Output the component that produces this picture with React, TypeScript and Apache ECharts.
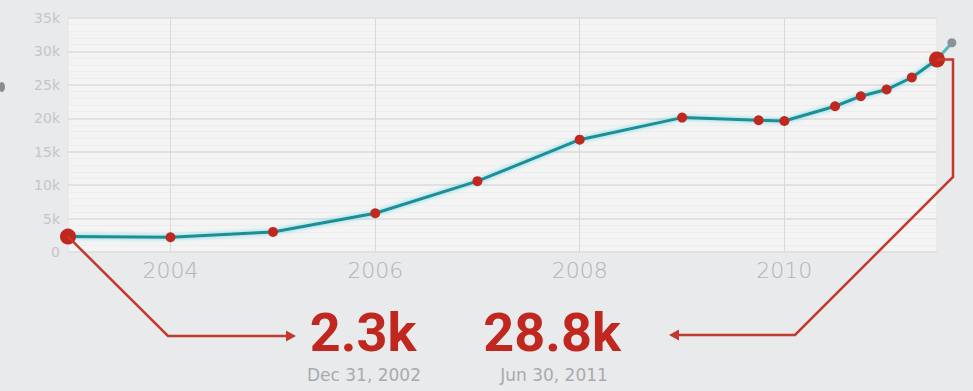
import React, { useEffect, useRef } from 'react';
import * as echarts from 'echarts';

// ---- data ----
const dates = [
  '2002-12-31', '2004-01-01', '2005-01-01', '2006-01-01', '2007-01-01',
  '2008-01-01', '2009-01-01', '2009-10-01', '2010-01-01', '2010-07-01',
  '2010-10-01', '2011-01-01', '2011-04-01', '2011-06-30',
];
const values = [
  2300, 2200, 3000, 5800, 10600,
  16800, 20100, 19700, 19600, 21800,
  23300, 24300, 26100, 28800,
];
const trailDates = ['2011-06-30', '2011-08-22'];
const trailValues = [28800, 31300];
const yearTicks = ['2004', '2006', '2008', '2010'];
const startValueLabel = '2.3k';
const startDateLabel = 'Dec 31, 2002';
const endValueLabel = '28.8k';
const endDateLabel = 'Jun 30, 2011';

const toTime = (s: string) => {
  const [y, m, d] = s.split('-').map(Number);
  return new Date(y, m - 1, d).getTime();
};

const RED = '#c0281f';
const ARROW = '#c23a2e';

export default function App() {
  const ref = useRef<HTMLDivElement>(null);
  useEffect(() => {
    const chart = echarts.init(ref.current!, null, { renderer: 'svg' });
    const mainData = dates.map((d, i) => [toTime(d), values[i]]);
    const trailData = trailDates.map((d, i) => [toTime(d), trailValues[i]]);
    const last = mainData.length - 1;
    chart.setOption({
      animation: false,
      backgroundColor: '#e8eaec',
      grid: {
        left: 68, top: 18, right: 36, bottom: 139,
        show: true, backgroundColor: '#f4f4f4', borderColor: '#e3e3e3', borderWidth: 1,
      },
      xAxis: {
        type: 'time',
        min: toTime(dates[0]),
        max: toTime(dates[last]),
        axisLabel: { show: false },
        axisLine: { show: false },
        axisTick: { show: false },
        splitLine: { show: false },
      },
      yAxis: {
        type: 'value',
        min: 0, max: 35000, interval: 5000,
        axisLine: { show: false },
        axisTick: { show: false },
        axisLabel: {
          formatter: (v: number) => (v === 0 ? '0' : `${v / 1000}k`),
          color: '#c3c6ca', fontSize: 14, fontFamily: 'DejaVu Sans', margin: 8,
        },
        splitLine: { lineStyle: { color: '#e1e1e1', width: 2 } },
        minorTick: { show: false, splitNumber: 5 },
        minorSplitLine: { show: true, lineStyle: { color: '#ededed', width: 1 } },
      },
      series: [
        {
          type: 'line',
          data: trailData,
          clip: false,
          z: 2,
          lineStyle: { width: 0 },
          symbol: 'circle',
          symbolSize: (_v: any, p: any) => (p.dataIndex === 1 ? 9 : 0),
          itemStyle: { color: '#8b9196' },
          silent: true,
        },
        {
          type: 'line',
          data: mainData,
          clip: false,
          z: 3,
          lineStyle: {
            color: '#1b8e96', width: 3,
            shadowColor: 'rgba(90,210,220,0.9)', shadowBlur: 4,
          },
          symbol: 'circle',
          symbolSize: (_v: any, p: any) => (p.dataIndex === 0 || p.dataIndex === last ? 16 : 10),
          itemStyle: { color: RED },
          silent: true,
          markLine: {
            silent: true,
            z: 1,
            symbol: ['none', 'none'],
            lineStyle: { color: '#d9d9d9', width: 1, type: 'solid' },
            label: {
              show: true,
              position: 'start',
              distance: 7,
              formatter: (p: any) => yearTicks[p.dataIndex],
              color: '#b2b5b8',
              fontSize: 22,
              fontFamily: 'DejaVu Sans',
              fontWeight: 300,
            },
            data: yearTicks.map((y) => ({ xAxis: toTime(`${y}-01-01`) })),
          },
        },
      ],
    });

    const [x0, y0] = chart.convertToPixel({ gridIndex: 0 }, mainData[0]) as number[];
    const [x1, y1] = chart.convertToPixel({ gridIndex: 0 }, mainData[last]) as number[];
    const [tx, ty] = chart.convertToPixel({ gridIndex: 0 }, trailData[1]) as number[];
    const rowY = 336;
    const lineStyle = { stroke: ARROW, lineWidth: 2.5, fill: 'none' };
    chart.setOption({
      graphic: [
        { type: 'ellipse', shape: { cx: 2, cy: 87, rx: 3, ry: 5 }, style: { fill: '#8a8d90' } },
        {
          type: 'line', z: 1,
          shape: { x1, y1, x2: tx, y2: ty },
          style: { stroke: '#4fb9c0', lineWidth: 3 },
        },
        {
          type: 'polyline', z: 10,
          shape: { points: [[x0, y0], [x0 + 100, rowY], [x0 + 222, rowY]] },
          style: lineStyle,
        },
        {
          type: 'polygon', z: 10,
          shape: { points: [[x0 + 218, rowY - 5.5], [x0 + 228, rowY], [x0 + 218, rowY + 5.5]] },
          style: { fill: ARROW },
        },
        {
          type: 'polyline', z: 10,
          shape: { points: [[x1, y1], [x1 + 16, y1], [x1 + 16, 177], [x1 - 142, rowY - 1], [x1 - 262, rowY - 1]] },
          style: lineStyle,
        },
        {
          type: 'polygon', z: 10,
          shape: { points: [[x1 - 258, rowY - 6.5], [x1 - 268, rowY - 1], [x1 - 258, rowY + 4.5]] },
          style: { fill: ARROW },
        },
        {
          type: 'text', x: 363, y: 332, z: 10,
          style: {
            text: startValueLabel, fill: RED, fontSize: 54, fontWeight: 'bold', lineHeight: 40,
            fontFamily: 'Roboto', align: 'center', verticalAlign: 'middle',
          },
        },
        {
          type: 'text', x: 364, y: 375, z: 10,
          style: {
            text: startDateLabel, fill: '#a8aaad', fontSize: 17, lineHeight: 17,
            fontFamily: 'DejaVu Sans', align: 'center', verticalAlign: 'middle',
          },
        },
        {
          type: 'text', x: 552, y: 332, z: 10,
          style: {
            text: endValueLabel, fill: RED, fontSize: 54, fontWeight: 'bold', lineHeight: 40,
            fontFamily: 'Roboto', align: 'center', verticalAlign: 'middle',
          },
        },
        {
          type: 'text', x: 554, y: 375, z: 10,
          style: {
            text: endDateLabel, fill: '#a8aaad', fontSize: 17, lineHeight: 17,
            fontFamily: 'DejaVu Sans', align: 'center', verticalAlign: 'middle',
          },
        },
      ],
    });
    return () => chart.dispose();
  }, []);
  return (
    <div
      ref={ref}
      style={{ position: 'fixed', left: 0, top: 0, width: 973, height: 391 }}
    />
  );
}
